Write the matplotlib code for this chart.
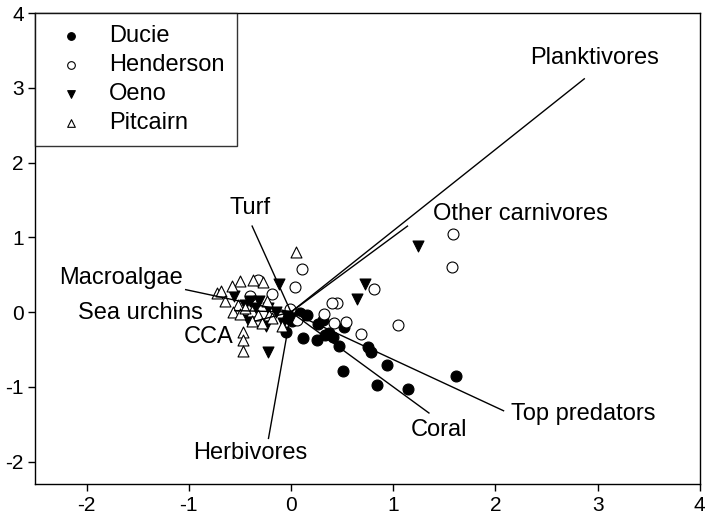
import matplotlib
matplotlib.use("Agg")
import matplotlib.pyplot as plt

plt.rcParams["font.family"] = ["Liberation Sans", "DejaVu Sans"]
plt.rcParams["axes.unicode_minus"] = False

# site scores (axis 1, axis 2)
ducie_x = [1.61, 1.15, 0.84, 0.94, 0.78, 0.75, 0.51, 0.47, 0.41, 0.33, 0.52,
           0.31, 0.26, 0.25, 0.12, 0.16, 0.12, 0.09, -0.05, -0.03, 0.01, 0.37]
ducie_y = [-0.85, -1.03, -0.98, -0.71, -0.53, -0.47, -0.79, -0.45, -0.33, -0.31, -0.20,
           -0.11, -0.16, -0.37, -0.35, -0.04, -0.04, -0.01, -0.27, -0.08, -0.12, -0.28]

henderson_x = [1.59, 1.58, 1.05, 0.81, 0.69, 0.54, 0.42, 0.45, 0.40, 0.32, 0.11,
               0.04, -0.01, 0.06, -0.19, -0.40, -0.32]
henderson_y = [1.04, 0.60, -0.17, 0.31, -0.30, -0.13, -0.14, 0.12, 0.12, -0.03, 0.57,
               0.34, 0.04, -0.10, 0.24, 0.21, 0.43]

oeno_x = [1.24, 0.72, 0.65, -0.12, -0.22, -0.24, -0.56, -0.40, -0.31, -0.45, -0.22,
          -0.42, -0.04, -0.08, -0.35, -0.15, 0.00]
oeno_y = [0.89, 0.37, 0.17, 0.37, -0.53, -0.19, 0.22, 0.15, 0.15, 0.10, 0.05,
          -0.10, -0.05, -0.15, 0.05, 0.00, -0.08]

pitcairn_x = [0.05, -0.50, -0.37, -0.27, -0.58, -0.72, -0.68, -0.65, -0.52, -0.57, -0.50,
              -0.38, -0.32, -0.21, -0.38, -0.28, -0.19, -0.09, -0.47, -0.47, -0.47, -0.23, -0.45]
pitcairn_y = [0.81, 0.42, 0.43, 0.40, 0.35, 0.26, 0.28, 0.15, 0.10, 0.00, -0.03,
              0.01, -0.04, -0.04, -0.12, -0.14, -0.08, -0.18, -0.26, -0.37, -0.52, 0.15, 0.05]

# variable vectors: end points and label positions
vec_names = ["Planktivores", "Other carnivores", "Turf", "Macroalgae", "Sea urchins",
             "CCA", "Herbivores", "Coral", "Top predators"]
vec_x = [2.87, 1.14, -0.38, -1.03, -0.55, -0.35, -0.22, 1.35, 2.08]
vec_y = [3.12, 1.15, 1.15, 0.30, 0.02, -0.12, -1.69, -1.35, -1.32]
lab_x = [2.97, 2.25, -0.40, -1.66, -1.47, -0.81, -0.40, 1.45, 2.86]
lab_y = [3.40, 1.31, 1.39, 0.46, -0.01, -0.34, -1.88, -1.58, -1.37]

fig = plt.figure(figsize=(7.09, 5.17), dpi=100)
ax = fig.add_axes([0.050, 0.0638, 0.937, 0.911])

ms = 62
ax.scatter(ducie_x, ducie_y, s=ms, marker="o", facecolor="black", edgecolor="black",
           linewidth=0.8, label="Ducie", zorder=3)
ax.scatter(henderson_x, henderson_y, s=ms, marker="o", facecolor="white", edgecolor="black",
           linewidth=0.8, label="Henderson", zorder=3)
ax.scatter(oeno_x, oeno_y, s=ms, marker="v", facecolor="black", edgecolor="black",
           linewidth=0.8, label="Oeno", zorder=3)
ax.scatter(pitcairn_x, pitcairn_y, s=ms, marker="^", facecolor="white", edgecolor="black",
           linewidth=0.8, label="Pitcairn", zorder=3)

for name, vx, vy, tx, ty in zip(vec_names, vec_x, vec_y, lab_x, lab_y):
    ax.plot([0, vx], [0, vy], color="black", linewidth=1.0, zorder=4)
    ax.text(tx, ty, name, fontsize=17, ha="center", va="center", zorder=5)

ax.set_xlim(-2.5, 4)
ax.set_ylim(-2.3, 4)
ax.set_xticks([-2, -1, 0, 1, 2, 3, 4])
ax.set_yticks([-2, -1, 0, 1, 2, 3, 4])
ax.tick_params(direction="out", length=5, width=1, labelsize=15, top=False, right=False)
for sp in ax.spines.values():
    sp.set_linewidth(1.0)

leg = ax.legend(loc="upper left", bbox_to_anchor=(0, 1), borderaxespad=0, fontsize=17,
                markerscale=0.7, frameon=True, fancybox=False, edgecolor="black",
                handletextpad=0.6, labelspacing=0.29, borderpad=0.52, handlelength=2.0)
leg.get_frame().set_linewidth(1.0)

fig.savefig("out.png", dpi=100)
